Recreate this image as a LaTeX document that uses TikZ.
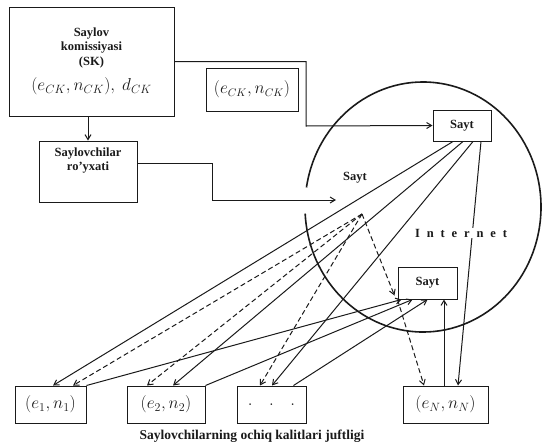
\documentclass[tikz,border=0pt]{standalone}
\usepackage{amsmath}
\usepackage{fontspec}
\setmainfont{Liberation Serif}
\usepackage{tikz}
\usetikzlibrary{arrows.meta,calc,positioning}
\definecolor{ink}{HTML}{1A1A1A}
\tikzset{
  >={Straight Barb[length=5pt,width=6pt]},
  every node/.style={font=\bfseries\fontsize{12.5}{14.5}\selectfont, text=ink},
  % --- nodes
  box/.style  = {draw=ink, line width=1pt, inner sep=0pt, align=center},
  site/.style = {box, minimum width=58pt, minimum height=31pt},
  key/.style  = {box, minimum height=37pt, font=\fontsize{16.5}{18}\selectfont},
  % --- edges
  e/.style    = {->, line width=1pt, draw=ink},
  ed/.style   = {e, dash pattern=on 5pt off 3pt},
}

\begin{document}
\begin{tikzpicture}[x=1pt,y=-1pt]
  \useasboundingbox (0,0) rectangle (542,445);
  % internet
  \draw[ink, line width=1.6pt] (423,207) ++(189:118 and 125)
    arc[start angle=189, end angle=537, x radius=118, y radius=125];
  % commission and list
  \node[box, minimum width=165pt, minimum height=109pt] (sk) at (91.5,61.5)
    {Saylov\\komissiyasi\\(SK)\\[9pt]{\mdseries\fontsize{17}{19}\selectfont$(e_{CK},n_{CK}),\ d_{CK}$}};
  \node[box, minimum width=92pt, minimum height=43pt, font=\fontsize{16}{18}\selectfont]
    (ek) at (252,89.5) {$(e_{CK},n_{CK})$};
  \node[box, minimum width=98pt, minimum height=61pt] (lst) at (88,171.5)
    {Saylovchilar\\ro'yxati\\[10pt]\mbox{}};
  % sites
  \node[site] (s1) at (462,125.5) {Sayt};
  \node[site, minimum width=59pt, minimum height=32pt] (s2) at (427.5,283) {Sayt};
  \node (s0) at (355,178) {Sayt};
  % voter keys
  \node[key, minimum width=71pt] (n1) at (50.5,404.5) {$(e_1,n_1)$};
  \node[key, minimum width=78pt] (n2) at (166,404.5) {$(e_2,n_2)$};
  \node[key, minimum width=69pt] (n3) at (271.5,404.5) {$.\quad.\quad.$};
  \node[key, minimum width=85pt] (nN) at (445.5,404.5) {$(e_N,n_N)$};
  \node[font=\bfseries\fontsize{13.5}{15}\selectfont] (cap) at (252,436)
    {Saylovchilarning ochiq kalitlari juftligi};
  \coordinate (hub) at (362,214);
  \coordinate (drop) at (336,200);
  \coordinate (bend1) at (306,126);
  \coordinate (bend2) at (212,200);
  % publishing
  \draw[e] (sk.south -| lst.north) -- (lst.north);
  \draw[e] (sk.east) -| (bend1) -- (s1.west);
  \draw[e] ([yshift=8.5pt]lst.east) -| (bend2) -- (drop);
  % site -> voters
  \draw[e] ([xshift=-9pt]s1.south) -- ([xshift=2.5pt]n1.north);
  \draw[e] ([xshift=1pt]s1.south) -- ([xshift=7pt]n2.north);
  \draw[e] ([xshift=11pt]s1.south) -- ([xshift=0.5pt]n3.north);
  \draw[e] ([xshift=19pt]s1.south) -- ([xshift=12.5pt]nN.north);
  % list -> voters
  \draw[ed] (hub) -- ([xshift=22.5pt]n1.north);
  \draw[ed] (hub) -- ([xshift=-19pt]n2.north);
  \draw[ed] (hub) -- ([xshift=-11.5pt]n3.north);
  \draw[ed] (hub) -- ([xshift=-3pt,yshift=4pt]s2.south west);
  \draw[ed] (s2.south west) -- ([xshift=-21.5pt]nN.north);
  % voters -> site
  \draw[e] (n1.north east) -- ([xshift=-26pt]s2.south);
  \draw[e] (n2.north east) -- ([xshift=-15pt]s2.south);
  \draw[e] ([xshift=-13pt]n3.north east) -- (s2.south);
  \draw[e] ([xshift=-1.5pt]nN.north) -- ([xshift=-1.5pt]nN.north |- s2.south);
  \node[fill=white, inner sep=1pt] (net) at (461,233)
    {\addfontfeature{LetterSpace=55}Internet};
\end{tikzpicture}
\end{document}
